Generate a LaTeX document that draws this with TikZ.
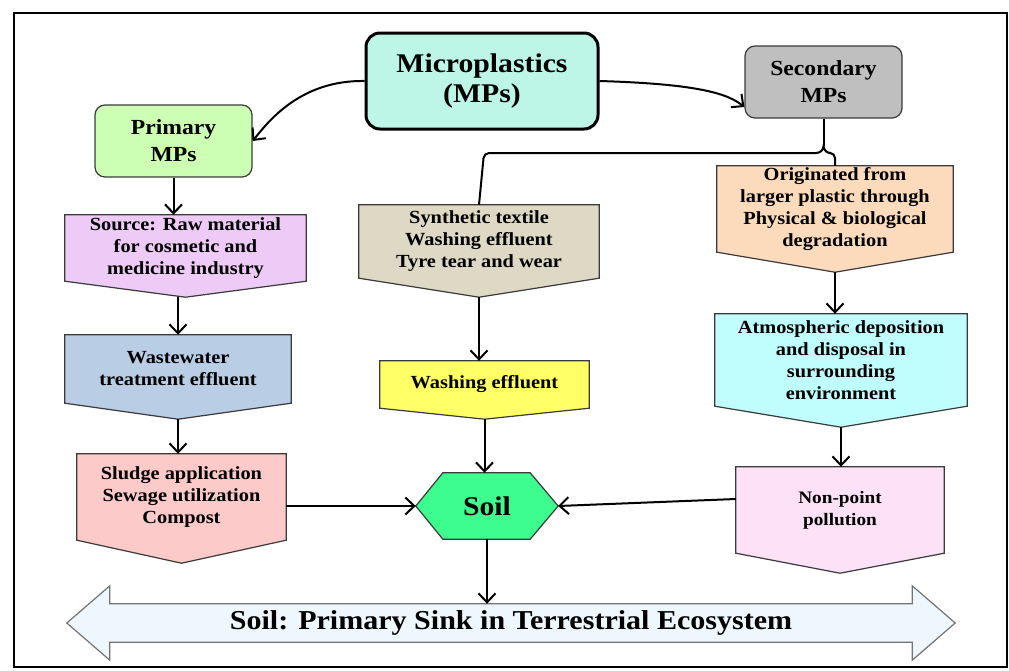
\documentclass[tikz,border=0pt]{standalone}
\usepackage{fontspec}
\setmainfont{Liberation Serif}[FakeStretch=1.1]
\usepackage{xcolor}
\definecolor{mpMint}{HTML}{BDF5E6}
\definecolor{mpGreen}{HTML}{CCFFB3}
\definecolor{mpGray}{HTML}{BFBFBF}
\definecolor{mpViolet}{HTML}{EDCBF6}
\definecolor{mpBlue}{HTML}{B9CDE5}
\definecolor{mpRose}{HTML}{FDCACA}
\definecolor{mpKhaki}{HTML}{DDD9C4}
\definecolor{mpYellow}{HTML}{FFFF66}
\definecolor{mpPeach}{HTML}{FCDBBD}
\definecolor{mpCyan}{HTML}{C0FEFE}
\definecolor{mpPink}{HTML}{FCE1F7}
\definecolor{mpSoil}{HTML}{3DFD8E}
\definecolor{mpSink}{HTML}{EEF6FE}
\definecolor{mpEdge}{HTML}{3A3A3A}
\usepackage{tikz}
\usetikzlibrary{arrows.meta,backgrounds,calc}
\tikzset{
    box/.style={
        rectangle,
        inner sep=0pt,
        align=center,
        font=\fontsize{18.5}{22}\selectfont\bfseries
    },
    rbox/.style={
        draw=mpEdge,
        rectangle,
        rounded corners=10pt,
        line width=1.2pt,
        align=center,
        minimum width=157pt,
        minimum height=72pt,
        font=\fontsize{21.5}{27}\selectfont\bfseries
    },
    boxline/.style={
        draw=mpEdge,
        line width=1.2pt
    },
    arrow/.style={
        -{Straight Barb[length=9pt,width=17pt]},
        line width=2pt,
        color=black
    },
    link/.style={
        line width=2pt,
        rounded corners=5pt,
        color=black
    }
}
\newcommand{\tipbox}[3]{%
    \draw[boxline, fill=#2] (#1.north west) -- (#1.north east) -- (#1.south east)
        -- ([yshift=-#3]#1.south) -- (#1.south west) -- cycle;
    \coordinate (#1-tip) at ([yshift=-#3]#1.south);}

\begin{document}
\begin{tikzpicture}[x=1pt,y=1pt]
    \useasboundingbox (0,0) rectangle (1009,-670);
    \draw[line width=2pt] (14,-13) rectangle (1007,-667);

    \node[rbox, draw=black, line width=3pt, rounded corners=14pt, fill=mpMint,
        minimum width=232pt, minimum height=96pt, font=\fontsize{27}{30}\selectfont\bfseries]
        (micro) at (482,-81) {Microplastics\\(MPs)};
    \node[rbox, fill=mpGreen] (primary) at (173.5,-141) {Primary\\MPs};
    \node[rbox, fill=mpGray] (secondary) at (823.5,-82) {Secondary\\MPs};

    \node[box, minimum width=241pt, minimum height=66pt] (source) at (185.5,-248)
        {Source: Raw material\\for cosmetic and\\medicine industry};
    \node[box, minimum width=226pt, minimum height=68pt] (wastewater) at (178,-369)
        {Wastewater\\treatment effluent};
    \node[box, minimum width=209pt, minimum height=86pt] (sludge) at (181.5,-497)
        {Sludge application\\Sewage utilization\\Compost};
    \node[box, minimum width=240pt, minimum height=73pt] (textile) at (479,-241.5)
        {Synthetic textile\\Washing effluent\\Tyre tear and wear};
    \node[box, minimum width=209pt, minimum height=47pt] (washing) at (484.5,-384.5)
        {Washing effluent};
    \node[box, minimum width=236pt, minimum height=86pt] (origin) at (835,-209)
        {Originated from\\larger plastic through\\Physical \& biological\\degradation};
    \node[box, minimum width=252pt, minimum height=92pt] (atmos) at (841,-360)
        {Atmospheric deposition\\and disposal in\\surrounding\\environment};
    \node[box, minimum width=208pt, minimum height=86pt, font=\fontsize{17.5}{22}\selectfont\bfseries]
        (nonpoint) at (840,-510) {Non-point\\pollution};
    \node[box, minimum width=142pt, minimum height=66pt, font=\fontsize{27}{30}\selectfont\bfseries]
        (soil) at (487,-506) {Soil};
    \node[box, minimum width=802pt, minimum height=38pt, font=\fontsize{27.3}{30}\selectfont\bfseries]
        (sink) at (511,-623) {Soil: Primary Sink in Terrestrial Ecosystem};

    \begin{scope}[on background layer]
        \tipbox{source}{mpViolet}{16pt}
        \tipbox{wastewater}{mpBlue}{16pt}
        \tipbox{sludge}{mpRose}{23pt}
        \tipbox{textile}{mpKhaki}{19pt}
        \tipbox{washing}{mpYellow}{11pt}
        \tipbox{origin}{mpPeach}{20pt}
        \tipbox{atmos}{mpCyan}{21pt}
        \tipbox{nonpoint}{mpPink}{20pt}
        \draw[boxline, fill=mpSoil] (soil.west) -- ([xshift=27pt]soil.north west)
            -- ([xshift=-28pt]soil.north east) -- (soil.east)
            -- ([xshift=-28pt]soil.south east) -- ([xshift=27pt]soil.south west) -- cycle;
        \draw[boxline, draw=black!55, fill=mpSink] (sink.north west) -- (sink.north east)
            -- ([yshift=18pt]sink.north east) -- ([xshift=43pt]sink.east)
            -- ([yshift=-18pt]sink.south east) -- (sink.south east) -- (sink.south west)
            -- ([yshift=-18pt]sink.south west) -- ([xshift=-43pt]sink.west)
            -- ([yshift=18pt]sink.north west) -- cycle;
    \end{scope}

    \coordinate (brace) at (823.5,-146);
    \draw[arrow] (micro.west) .. controls (300,-80) and (268,-122) .. (primary.east);
    \draw[arrow] (micro.east) .. controls (700,-84) and (728,-94) .. ([yshift=-25pt]secondary.west);
    \draw[link] (secondary.south) -- (brace);
    \draw[link] (textile.north) -- (484,-153) -- (816,-153);
    \draw[line width=2pt] (816,-153) to[out=0,in=-90] (brace) to[out=-90,in=180] (831,-153);
    \draw[link] (831,-153) -- (835,-153) -- (origin.north);

    \draw[arrow] (primary.south) -- (primary.south |- source.north);
    \draw[arrow] (wastewater.north |- source-tip) -- (wastewater.north);
    \draw[arrow] (wastewater-tip) -- (wastewater-tip |- sludge.north);
    \draw[arrow] (textile-tip) -- (textile-tip |- washing.north);
    \draw[arrow] (washing-tip) -- (washing-tip |- soil.north);
    \draw[arrow] (origin-tip) -- (origin-tip |- atmos.north);
    \draw[arrow] (atmos-tip) -- (atmos-tip |- nonpoint.north);
    \draw[arrow] (sludge.east |- soil.west) -- (soil.west);
    \draw[arrow] ([yshift=11pt]nonpoint.west) -- (soil.east);
    \draw[arrow] (soil.south) -- (soil.south |- sink.north);
\end{tikzpicture}
\end{document}
